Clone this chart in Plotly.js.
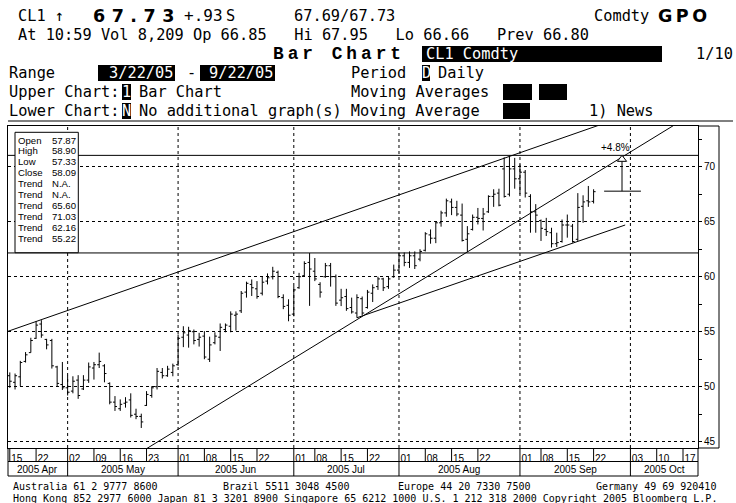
<!DOCTYPE html>
<html>
<head>
<meta charset="utf-8">
<script src="https://cdn.plot.ly/plotly-3.0.1.min.js"></script>
<style>
  html, body { margin: 0; padding: 0; background: #fff; }
  #chart { width: 736px; height: 503px; }
</style>
</head>
<body>
<div id="chart"></div>
<script>
// ---------- trading calendar ----------
const HOLIDAYS = ['2005-05-30', '2005-07-04', '2005-09-05'];

function sessions(from, to) {
  const out = [];
  const d = new Date(from + 'T00:00:00Z');
  const end = new Date(to + 'T00:00:00Z');
  while (d <= end) {
    const wd = d.getUTCDay();
    const s = d.toISOString().slice(0, 10);
    if (wd !== 0 && wd !== 6 && HOLIDAYS.indexOf(s) < 0) out.push(s);
    d.setUTCDate(d.getUTCDate() + 1);
  }
  return out;
}
const SESSIONS = sessions('2005-04-01', '2005-10-31');
const sIdx = d => SESSIONS.indexOf(d);
// daily bars sit at mid-session
const mid = d => d + ' 12:00';
// fractional session position -> timestamp on the date axis
function atSession(pos) {
  const k = Math.floor(pos + 0.5);
  const t = new Date(SESSIONS[k] + 'T12:00:00Z').getTime() + (pos - k) * 86400000;
  return new Date(t).toISOString().replace('T', ' ').slice(0, 19);
}

// ---------- CL1 Comdty daily bars ----------
const BAR_DATES = sessions('2005-04-15', '2005-09-22');
const OPEN = [
  51.00, 50.40, 50.90, 52.30, 53.10, 54.40, 55.70, 54.30, 54.20, 51.80,
  50.20, 49.90, 49.60, 50.60, 49.80, 50.60, 51.70, 52.00, 51.90, 50.30,
  48.60, 48.00, 48.50, 48.80, 47.50, 47.30, 48.30, 49.20, 50.00, 51.30,
  51.00, 51.30, 52.00, 54.50, 54.70, 55.00, 54.30, 54.60, 52.50, 54.00,
  54.50, 55.20, 55.50, 56.50, 56.90, 58.60, 59.30, 58.90, 58.50, 59.60,
  60.00, 60.40, 58.10, 57.40, 56.60, 59.00, 60.10, 61.30, 60.50, 59.30,
  60.00, 61.00, 60.00, 57.87, 58.20, 57.20, 56.70, 58.00, 57.20, 58.50,
  59.10, 59.80, 59.10, 60.00, 60.60, 61.90, 61.30, 61.90, 61.60, 62.40,
  63.80, 63.50, 64.90, 65.80, 66.80, 66.30, 65.60, 63.40, 64.30, 65.40,
  65.30, 65.90, 67.30, 67.60, 69.80, 67.50, 69.80, 68.90, 69.50, 67.30,
  65.90, 65.10, 64.30, 64.00, 63.00, 63.20, 64.70, 64.60, 63.40, 66.40,
  66.90, 66.85
];
const HIGH = [
  51.30, 51.20, 52.35, 53.15, 54.45, 55.95, 56.05, 54.35, 54.35, 51.90,
  52.25, 51.00, 50.95, 51.05, 51.05, 52.20, 52.25, 53.10, 52.05, 50.40,
  49.15, 48.85, 49.05, 49.40, 48.00, 47.55, 49.60, 50.05, 51.70, 51.70,
  51.90, 52.10, 54.75, 55.50, 55.45, 55.20, 54.90, 55.05, 54.55, 54.95,
  55.75, 55.75, 56.85, 56.85, 58.70, 59.55, 59.75, 59.60, 60.00, 60.30,
  60.90, 60.55, 58.40, 57.95, 59.15, 60.35, 61.40, 62.15, 61.70, 59.50,
  61.25, 61.25, 60.20, 58.90, 58.90, 58.10, 58.40, 58.20, 58.80, 59.30,
  60.00, 59.90, 60.00, 61.10, 62.20, 62.20, 62.30, 62.30, 62.50, 64.05,
  64.30, 65.00, 66.00, 67.10, 67.10, 66.90, 66.65, 64.60, 65.65, 66.25,
  66.25, 67.40, 67.95, 68.00, 70.85, 71.00, 70.80, 70.20, 69.70, 67.50,
  66.60, 65.20, 65.35, 64.45, 64.00, 65.20, 65.65, 64.80, 67.60, 67.40,
  68.25, 67.95
];
const LOW = [
  49.90, 49.75, 50.05, 52.20, 53.10, 54.35, 54.45, 53.40, 51.65, 50.00,
  49.70, 49.20, 49.40, 48.90, 49.70, 50.35, 50.65, 51.70, 50.40, 48.40,
  47.80, 47.80, 48.10, 47.20, 47.05, 46.25, 48.25, 49.00, 49.75, 50.75,
  50.90, 50.95, 51.90, 53.60, 53.55, 53.85, 53.65, 52.50, 52.25, 53.85,
  53.25, 54.95, 54.95, 55.10, 56.70, 58.10, 58.25, 58.00, 58.30, 59.30,
  59.75, 58.05, 57.05, 55.95, 56.40, 58.90, 60.00, 57.35, 59.60, 58.10,
  59.90, 59.10, 57.35, 57.33, 56.90, 56.65, 56.27, 56.50, 57.10, 57.70,
  58.80, 58.70, 58.90, 59.90, 60.30, 60.95, 60.80, 60.70, 61.40, 62.30,
  63.00, 63.05, 64.55, 65.45, 65.60, 65.50, 63.20, 62.24, 64.20, 64.75,
  64.20, 65.80, 66.35, 66.40, 67.20, 67.30, 68.00, 67.50, 67.20, 64.00,
  64.00, 63.25, 63.70, 62.65, 62.70, 63.10, 63.55, 63.10, 63.25, 64.90,
  66.35, 66.66
];
const CLOSE = [
  50.50, 51.00, 52.20, 52.90, 54.20, 55.60, 54.70, 53.80, 51.90, 50.30,
  49.90, 49.50, 50.50, 49.20, 50.60, 51.80, 52.00, 52.30, 51.20, 48.60,
  48.20, 48.40, 48.60, 47.40, 47.30, 46.80, 49.30, 49.90, 51.40, 51.00,
  51.60, 51.90, 54.40, 54.90, 55.10, 54.20, 54.50, 52.70, 53.80, 54.60,
  55.40, 55.60, 56.60, 56.60, 58.50, 59.40, 59.00, 58.20, 59.50, 59.90,
  60.50, 58.20, 57.30, 56.50, 58.80, 60.00, 61.20, 60.70, 59.80, 58.60,
  61.00, 60.00, 57.60, 58.09, 57.10, 56.80, 58.10, 56.70, 58.60, 59.00,
  59.80, 59.00, 59.80, 60.60, 61.90, 61.30, 61.90, 61.00, 62.30, 63.90,
  63.50, 64.90, 65.80, 66.90, 66.30, 65.70, 63.30, 63.90, 65.40, 65.30,
  65.70, 67.30, 67.50, 66.50, 67.30, 69.80, 68.90, 69.50, 67.60, 65.90,
  65.60, 64.40, 64.10, 63.00, 63.10, 64.70, 64.70, 63.20, 66.30, 66.80,
  66.80, 67.73
];

// ---------- drawn studies ----------
const TREND_A = { x: ['2005-04-14', '2005-09-23'], y: [54.93, 73.77] };
const TREND_B = { x: ['2005-05-13', '2005-10-19'], y: [42.61, 74.86] };
const TREND_C = { x: ['2005-07-20', '2005-09-30'], y: [56.27, 64.70] };
const LEVELS = [71.03, 62.16];
const TARGET = 71.03, TARGET_PCT = 4.8;
const PROJ_FROM = '2005-09-26', PROJ_TO = '2005-10-05', PROJ_AT = '2005-09-29';

// cursor readout
const CURSOR_DATE = '2005-07-15';
const TREND_READOUT = ['N.A.', 'N.A.', '65.60', '71.03', '62.16', '55.22'];

// ---------- axis labelling ----------
const WEEK_TICKS = ['2005-04-15', '2005-04-22', '2005-05-02', '2005-05-09', '2005-05-16', '2005-05-23',
  '2005-06-01', '2005-06-08', '2005-06-15', '2005-06-22', '2005-07-01', '2005-07-08', '2005-07-15',
  '2005-07-22', '2005-08-01', '2005-08-08', '2005-08-15', '2005-08-22', '2005-09-01', '2005-09-08',
  '2005-09-15', '2005-09-22', '2005-10-03', '2005-10-10', '2005-10-17'];
const MONTH_STARTS = ['2005-05-02', '2005-06-01', '2005-07-01', '2005-08-01', '2005-09-01', '2005-10-03'];
const MONTH_NAMES = ['2005 Apr', '2005 May', '2005 Jun', '2005 Jul', '2005 Aug', '2005 Sep', '2005 Oct'];
const PRICE_TICKS = [45, 50, 55, 60, 65, 70];

// visible window (in sessions)
const VIEW_START = sIdx('2005-04-15') - 0.34;
const VIEW_END = sIdx('2005-10-19') + 0.85;

// ---------- page geometry ----------
const X0 = 8, X1 = 698, Y0 = 126, Y1 = 448;
const px = v => (v - X0) / (X1 - X0);
const py = v => (Y1 - v) / (Y1 - Y0);
const DAY_ROW = py(461.5), MONTH_ROW = py(476);

const MONO = 'DejaVu Sans Mono, monospace';
const SANS = 'Liberation Sans, Arial, sans-serif';
const BLACK = '#000';

function text(t, x, y, font, extra) {
  return Object.assign({
    xref: 'paper', yref: 'paper', x: px(x), y: py(y), text: t, showarrow: false,
    xanchor: 'left', yanchor: 'middle', borderpad: 0,
    font: Object.assign({ color: BLACK }, font)
  }, extra || {});
}
function rect(x0, x1, y0, y1, fill, line) {
  return { type: 'rect', xref: 'paper', yref: 'paper', x0: px(x0), x1: px(x1), y0: py(y0), y1: py(y1),
    fillcolor: fill, line: line || { width: 0 }, layer: 'above' };
}
function pline(x0, y0, x1, y1) {
  return { type: 'line', xref: 'paper', yref: 'paper', x0: x0, y0: y0, x1: x1, y1: y1,
    line: { color: BLACK, width: 1 }, layer: 'above' };
}

// ---------- traces ----------
const last = BAR_DATES.length - 1;
const traces = [];
[TREND_A, TREND_B, TREND_C].forEach(t => traces.push({
  type: 'scatter', mode: 'lines', x: t.x.map(mid), y: t.y,
  line: { color: BLACK, width: 1 }, hoverinfo: 'skip'
}));
traces.push({
  type: 'ohlc', x: BAR_DATES.map(mid), open: OPEN, high: HIGH, low: LOW, close: CLOSE,
  increasing: { line: { color: BLACK, width: 1 } }, decreasing: { line: { color: BLACK, width: 1 } },
  tickwidth: 0.38, hoverinfo: 'skip'
});
const projBase = TARGET / (1 + TARGET_PCT / 100);
const projX = atSession(sIdx(PROJ_AT) + 0.4);
traces.push({ type: 'scatter', mode: 'lines', x: [mid(PROJ_FROM), mid(PROJ_TO)], y: [projBase, projBase],
  line: { color: BLACK, width: 1 }, hoverinfo: 'skip' });
traces.push({ type: 'scatter', mode: 'lines', x: [projX, projX], y: [projBase, TARGET - 0.55],
  line: { color: BLACK, width: 1 }, hoverinfo: 'skip' });
traces.push({ type: 'scatter', mode: 'markers', x: [projX], y: [TARGET - 0.36],
  marker: { symbol: 'triangle-up', size: 8, color: '#fff', line: { color: BLACK, width: 1 } },
  hoverinfo: 'skip' });

// ---------- shapes ----------
const shapes = [];
MONTH_STARTS.forEach(d => shapes.push({ type: 'line', xref: 'x', yref: 'paper', x0: mid(d), x1: mid(d),
  y0: 0, y1: 1, line: { color: BLACK, width: 1, dash: '3px,3px' }, layer: 'below' }));
LEVELS.forEach(v => shapes.push({ type: 'line', xref: 'paper', yref: 'y', x0: 0, x1: 1, y0: v, y1: v,
  line: { color: BLACK, width: 1 }, layer: 'below' }));
WEEK_TICKS.forEach(d => shapes.push({ type: 'line', xref: 'x', yref: 'paper', x0: mid(d), x1: mid(d),
  y0: 0, y1: DAY_ROW, line: { color: BLACK, width: 1 } }));
MONTH_STARTS.forEach(d => shapes.push({ type: 'line', xref: 'x', yref: 'paper', x0: mid(d), x1: mid(d),
  y0: DAY_ROW, y1: MONTH_ROW, line: { color: BLACK, width: 1 } }));
shapes.push(pline(0, DAY_ROW, 1, DAY_ROW));
shapes.push(pline(0, MONTH_ROW, 1, MONTH_ROW));
shapes.push(pline(0, 0, 0, MONTH_ROW));
shapes.push(pline(1, 0, 1, MONTH_ROW));
const COL = px(719);
shapes.push(pline(1, 1, COL, 1));
shapes.push(pline(COL, 1, COL, 0));
shapes.push(pline(1, 0, COL, 0));
// cursor readout panel
shapes.push(rect(15, 78.3, 132.3, 252.7, '#fff', { color: BLACK, width: 1 }));
// header blocks
shapes.push(rect(422, 662, 46, 62, BLACK));
shapes.push(rect(98, 175, 65, 81, BLACK));
shapes.push(rect(200, 275, 65, 81, BLACK));
shapes.push(rect(422, 430, 65, 81, BLACK));
shapes.push(rect(122, 131, 84, 100, BLACK));
shapes.push(rect(503, 532, 84, 100, BLACK));
shapes.push(rect(539, 567, 84, 100, BLACK));
shapes.push(rect(122, 131, 103, 119, BLACK));
shapes.push(rect(503, 530, 103, 119, BLACK));
shapes.push(pline(px(8), py(121), px(733), py(121)));

// ---------- annotations ----------
const ann = [];
const hdr = { family: MONO, size: 15.3 };
const white = { family: MONO, size: 15.3, color: '#fff' };
const big = { family: 'DejaVu Sans', size: 17.5, weight: 'bold' };
const f2 = v => v.toFixed(2);
const chg = CLOSE[last] - CLOSE[last - 1];

ann.push(text('CL1 \u2191', 17, 16, hdr));
ann.push(text('<span style="letter-spacing:6.5px">' + f2(CLOSE[last]) + '</span>', 92, 16, big));
ann.push(text((chg >= 0 ? '+' : '-') + f2(Math.abs(chg)).replace(/^0/, ''), 183, 16, { family: MONO, size: 16 }));
ann.push(text('S', 225, 16, hdr));
ann.push(text('67.69/' + f2(CLOSE[last]), 293, 16, hdr));
ann.push(text('Comdty', 593, 16, hdr));
ann.push(text('<span style="letter-spacing:3.5px">GPO</span>', 657, 16, big));

const sp = '\u00a0\u00a0\u00a0';
ann.push(text('At 10:59 Vol 8,209 Op ' + f2(OPEN[last]) + sp + 'Hi ' + f2(HIGH[last]) + sp +
  'Lo ' + f2(LOW[last]) + sp + 'Prev ' + f2(CLOSE[last - 1]), 17, 35, hdr));

ann.push(text('<span style="letter-spacing:4px">Bar Chart</span>', 272, 54,
  { family: 'Liberation Mono', size: 17.8, weight: 'bold' }));
ann.push(text('CL1 Comdty', 425, 54, white));
ann.push(text('1/10', 695, 54, hdr));

ann.push(text('Range', 8, 73, hdr));
ann.push(text('3/22/05', 174, 73, white, { xanchor: 'right' }));
ann.push(text('-', 186, 73, hdr));
ann.push(text('9/22/05', 274, 73, white, { xanchor: 'right' }));
ann.push(text('Period', 350, 73, hdr));
ann.push(text('D', 426, 73, white, { xanchor: 'center' }));
ann.push(text('Daily', 437, 73, hdr));

ann.push(text('Upper Chart:', 8, 92, hdr));
ann.push(text('1', 126.5, 92, white, { xanchor: 'center' }));
ann.push(text('Bar Chart', 138, 92, hdr));
ann.push(text('Moving Averages', 350, 92, hdr));

ann.push(text('Lower Chart:', 8, 111, hdr));
ann.push(text('N', 126.5, 111, white, { xanchor: 'center' }));
ann.push(text('No additional graph(s) Moving Average', 138, 111, hdr));
ann.push(text('1) News', 588, 111, hdr));

// cursor readout panel text
const ci = BAR_DATES.indexOf(CURSOR_DATE);
const readLabels = ['Open', 'High', 'Low', 'Close'].concat(TREND_READOUT.map(() => 'Trend'));
const readValues = [OPEN[ci], HIGH[ci], LOW[ci], CLOSE[ci]].map(f2).concat(TREND_READOUT);
const small = { family: SANS, size: 9.6 };
readLabels.forEach((l, k) => {
  ann.push(text(l, 16.5, 140 + k * 10.93, small));
  ann.push(text(readValues[k], 51, 140 + k * 10.93, small));
});

// projection label
ann.push({ xref: 'x', yref: 'y', x: projX, y: TARGET, text: '+' + TARGET_PCT.toFixed(1) + '%',
  showarrow: false, xanchor: 'center', yanchor: 'bottom', xshift: -7, yshift: 0,
  font: { family: SANS, size: 10, color: BLACK } });

// month row labels
const bounds = [VIEW_START].concat(MONTH_STARTS.map(sIdx), [VIEW_END]);
MONTH_NAMES.forEach((m, k) => ann.push({
  xref: 'x', yref: 'paper', x: atSession((bounds[k] + bounds[k + 1]) / 2), y: py(469.2),
  text: m, showarrow: false, xanchor: 'center', yanchor: 'middle',
  font: { family: SANS, size: 10, color: BLACK }
}));

// footer
const foot = { family: MONO, size: 10 };
ann.push(text('Australia 61 2 9777 8600', 12, 486.5, foot));
ann.push(text('Brazil 5511 3048 4500', 222, 486.5, foot));
ann.push(text('Europe 44 20 7330 7500', 397, 486.5, foot));
ann.push(text('Germany 49 69 920410', 595, 486.5, foot));
ann.push(text('Hong Kong 852 2977 6000 Japan 81 3 3201 8900 Singapore 65 6212 1000 U.S. 1 212 318 2000 Copyright 2005 Bloomberg L.P.',
  12, 498.2, foot));

// ---------- layout ----------
const layout = {
  width: 736, height: 503,
  margin: { l: X0, r: 736 - X1, t: Y0, b: 503 - Y1, pad: 0 },
  paper_bgcolor: '#fff', plot_bgcolor: '#fff',
  showlegend: false, hovermode: false, dragmode: false,
  xaxis: {
    type: 'date', range: [atSession(VIEW_START), atSession(VIEW_END)],
    rangebreaks: [{ bounds: ['sat', 'mon'] }, { values: HOLIDAYS }],
    tickmode: 'array', tickvals: WEEK_TICKS.map(mid), ticktext: WEEK_TICKS.map(d => d.slice(8)),
    ticks: '', showgrid: false, zeroline: false,
    showline: true, mirror: true, linecolor: BLACK, linewidth: 1,
    tickfont: { family: SANS, size: 10, color: BLACK }, ticklabelshift: 7, ticklabelstandoff: 1,
    rangeslider: { visible: false }, fixedrange: true
  },
  yaxis: {
    side: 'right', range: [44.43, 73.7], tickmode: 'array', tickvals: PRICE_TICKS,
    ticks: 'outside', ticklen: 3, tickcolor: BLACK, tickwidth: 1,
    minor: { tickmode: 'linear', tick0: 45, dtick: 2.5, ticks: 'outside', ticklen: 3, tickcolor: BLACK, showgrid: false },
    showgrid: true, gridcolor: BLACK, gridwidth: 1, griddash: '3px,3px',
    showline: true, mirror: true, linecolor: BLACK, linewidth: 1, zeroline: false,
    tickfont: { family: SANS, size: 10, color: BLACK }, fixedrange: true
  },
  shapes: shapes,
  annotations: ann
};

Plotly.newPlot('chart', traces, layout, { staticPlot: true, displayModeBar: false });
</script>
</body>
</html>
